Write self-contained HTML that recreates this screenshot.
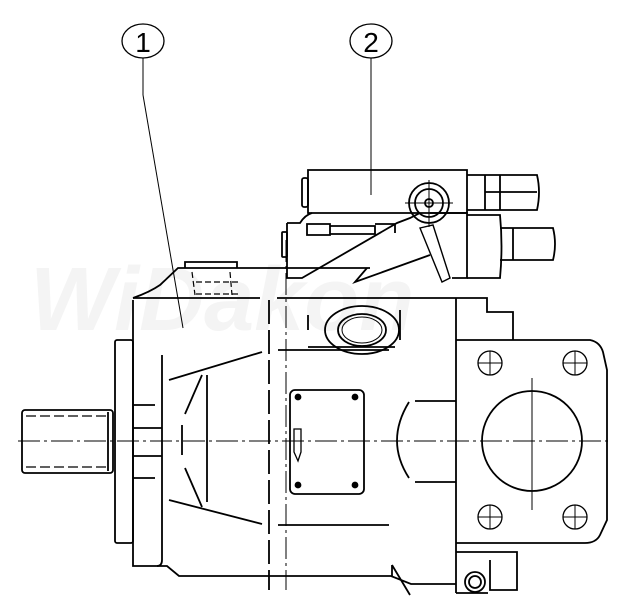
<!DOCTYPE html>
<html><head><style>html,body{margin:0;padding:0;background:#fff}svg{display:block}</style></head>
<body>
<svg width="629" height="613" viewBox="0 0 629 613" xmlns="http://www.w3.org/2000/svg" fill="none" stroke="#000" stroke-width="1.8" font-family="Liberation Sans, sans-serif">
<text x="30" y="330" font-size="90" font-style="italic" font-weight="bold" fill="#f4f4f4" stroke="none">WiDakon</text>
<!-- callouts -->
<ellipse cx="143" cy="41" rx="21" ry="17" stroke-width="1.3"/>
<text x="143" y="52" font-size="28" text-anchor="middle" fill="#000" stroke="none">1</text>
<ellipse cx="371" cy="41" rx="21" ry="17" stroke-width="1.3"/>
<text x="371" y="52" font-size="28" text-anchor="middle" fill="#000" stroke="none">2</text>
<line x1="143" y1="58" x2="143" y2="95" stroke-width="1"/>
<line x1="143" y1="95" x2="183" y2="328" stroke-width="1"/>
<line x1="371" y1="58" x2="371" y2="195" stroke-width="1"/>
<!-- centerline -->
<line x1="18" y1="441" x2="612" y2="441" stroke-width="1" stroke-dasharray="22,4,3,4"/>
<line x1="286" y1="240" x2="286" y2="590" stroke-width="1" stroke-dasharray="22,4,3,4"/>
<line x1="532" y1="378" x2="532" y2="510" stroke-width="1"/>
<!-- shaft -->
<rect x="22" y="410" width="91" height="63" rx="3"/>
<line x1="26" y1="416" x2="108" y2="416" stroke-dasharray="10,4" stroke-width="1.2"/>
<line x1="26" y1="467" x2="108" y2="467" stroke-dasharray="10,4" stroke-width="1.2"/>
<line x1="108" y1="412" x2="108" y2="471"/>
<!-- flange -->
<rect x="115" y="340" width="18" height="203" rx="2"/>
<!-- body -->
<path d="M133 300 L133 566 L167 566 L179 576 L391 576 L411 584 L456 584"/>
<path d="M133 298 L260 298 M277 298 L453 298"/>
<path d="M133 298 Q150 292 160 285 L178 268 L370 268"/>
<path d="M162 355 L162 560 Q162 566 157 566"/>
<line x1="269" y1="300" x2="269" y2="590" stroke-dasharray="24,6" />
<line x1="169" y1="380" x2="262" y2="352"/>
<line x1="169" y1="500" x2="262" y2="524"/>
<line x1="202" y1="375" x2="185" y2="414"/>
<line x1="202" y1="507" x2="185" y2="468"/>
<line x1="207" y1="375" x2="207" y2="502"/>
<line x1="182" y1="425" x2="182" y2="455"/>
<path d="M133 405 L155 405 M133 478 L155 478 M133 428 L162 428 M133 456 L162 456"/>
<path d="M278 350 L389 350 M278 525 L389 525"/>
<!-- plate -->
<rect x="290" y="390" width="74" height="104" rx="5"/>
<circle cx="298" cy="397" r="2.5" fill="#000"/><circle cx="355" cy="397" r="2.5" fill="#000"/>
<circle cx="298" cy="485" r="2.5" fill="#000"/><circle cx="355" cy="485" r="2.5" fill="#000"/>
<path d="M294 429 L301 429 L301 452 L298 461 L294 452 Z" stroke-width="1.3"/>
<!-- lens -->
<path d="M409 402 Q385 441 409 478"/>
<path d="M415 401 L456 401 M415 482 L456 482"/>
<path d="M392 565 L392 576 M392 565 L410 595"/>
<!-- port -->
<ellipse cx="362" cy="330" rx="37" ry="24"/>
<ellipse cx="362" cy="330" rx="24" ry="16"/>
<ellipse cx="362" cy="330" rx="20" ry="13" stroke-width="1"/>
<path d="M308 315 L308 330 M400 310 L400 340"/>
<path d="M308 347 L395 347"/>
<!-- right flange -->
<path d="M453 298 L487 298 L487 312 L513 312 L513 340"/>
<path d="M456 298 L456 593"/>
<path d="M456 340 L590 340 Q600 342 603 352 L607 370 L607 520 L600 535 Q596 543 585 543 L456 543"/>
<circle cx="532" cy="441" r="50"/>
<g stroke-width="1.3">
<circle cx="490" cy="363" r="12"/><circle cx="575" cy="363" r="12"/>
<circle cx="490" cy="517" r="12"/><circle cx="575" cy="517" r="12"/>
</g>
<path d="M478 363 L502 363 M490 351 L490 375 M563 363 L587 363 M575 351 L575 375 M478 517 L502 517 M490 505 L490 529 M563 517 L587 517 M575 505 L575 529" stroke-width="1"/>
<path d="M456 552 L517 552 L517 590 L490 590 L490 560 M456 593 L488 593"/>
<circle cx="475" cy="582" r="10"/><circle cx="475" cy="582" r="6"/>
<!-- small block on top -->
<path d="M185 268 L185 262 L237 262 L237 268"/>
<path d="M192 272 L195 295 M230 272 L232 295 M196 282 L240 282 M196 294 L240 294" stroke-width="1.2" stroke-dasharray="6,3"/>
<!-- valve 2 -->
<path d="M308 170 L467 170 L467 213 L308 213 Z"/>
<rect x="302" y="178" width="6" height="29" rx="2"/>
<path d="M287 223 L300 223 Q305 215 312 213 M287 223 L287 278 L302 278 L397 223 L410 218 L420 213"/>
<rect x="282" y="232" width="5" height="25" rx="1"/>
<path d="M307 224 L330 224 L330 235 L307 235 Z M330 226 L375 226 L375 234 L330 234 M375 224 L395 224 L395 233"/>
<path d="M367 268 L355 282 L430 255"/>
<path d="M420 228 L433 225 L450 278 L442 282 Z" stroke-width="1.4"/>
<path d="M430 213 L467 213 L467 278 L452 278"/>
<circle cx="429" cy="203" r="20"/><circle cx="429" cy="203" r="14"/><circle cx="429" cy="203" r="4"/>
<line x1="405" y1="203" x2="453" y2="203" stroke-width="1"/><line x1="429" y1="180" x2="429" y2="227" stroke-width="1"/>
<path d="M467 175 L485 175 L485 210 L467 210 M485 175 L537 175 Q541 192 537 210 L485 210 M500 175 L500 210 M485 192 L537 192" />
<path d="M467 215 L500 215 Q503 246 500 278 L467 278 M500 228 L553 228 Q557 244 553 260 L500 260 M513 228 L513 260"/>
</svg>
</body></html>
